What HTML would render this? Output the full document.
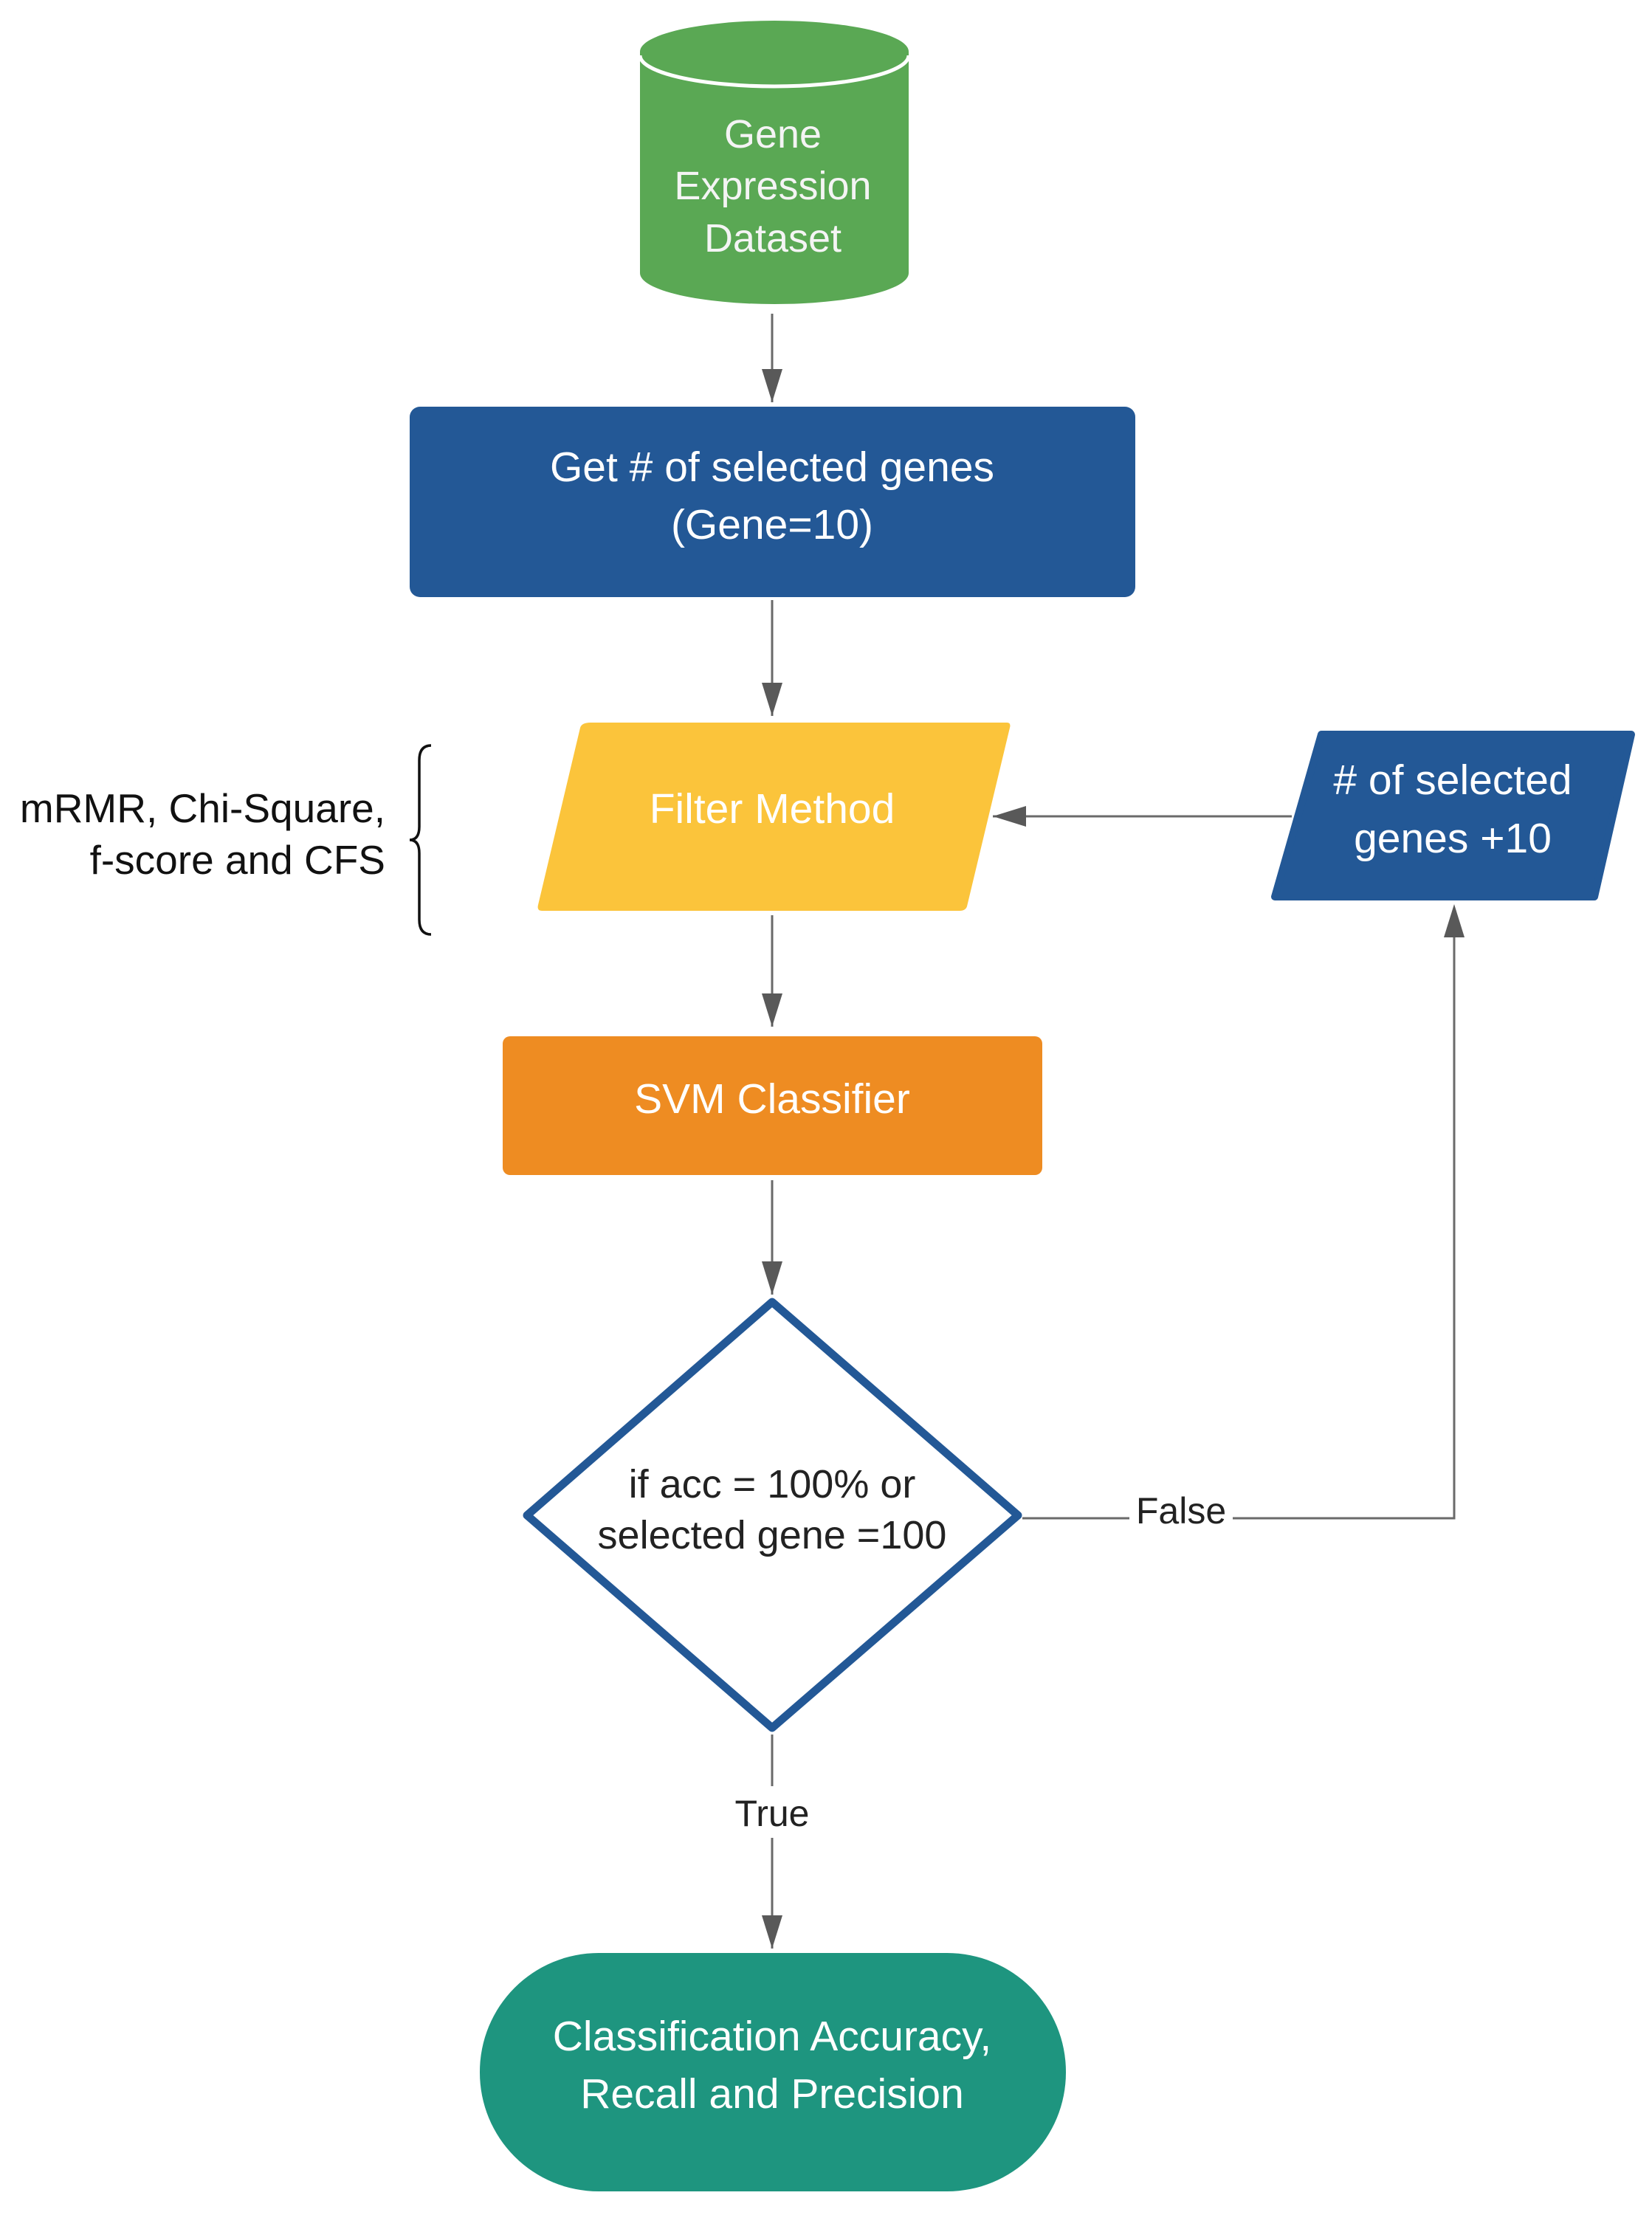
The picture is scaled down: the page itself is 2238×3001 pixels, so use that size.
<!DOCTYPE html>
<html><head><meta charset="utf-8"><style>
html,body{margin:0;padding:0;background:#fff;}
svg{display:block;}
text{font-family:"Liberation Sans",Arial,sans-serif;}
</style></head><body>
<svg width="2238" height="3001" viewBox="0 0 2238 3001" xmlns="http://www.w3.org/2000/svg">
<g stroke="#6a6a6a" stroke-width="3" fill="none">
<line x1="1046" y1="425" x2="1046" y2="545"/>
<line x1="1046" y1="813" x2="1046" y2="970"/>
<line x1="1750" y1="1106" x2="1345" y2="1106"/>
<line x1="1046" y1="1240" x2="1046" y2="1391"/>
<line x1="1046" y1="1599" x2="1046" y2="1754"/>
<polyline points="1385,2057 1970,2057 1970,1230"/>
<line x1="1046" y1="2350" x2="1046" y2="2640"/>
</g>
<g fill="#595959">
<path d="M1032,500 L1060,500 L1046,545 z"/>
<path d="M1032,925 L1060,925 L1046,970 z"/>
<path d="M1390,1092 L1390,1120 L1345,1106 z"/>
<path d="M1032,1346 L1060,1346 L1046,1391 z"/>
<path d="M1032,1709 L1060,1709 L1046,1754 z"/>
<path d="M1956,1270 L1984,1270 L1970,1225 z"/>
<path d="M1032,2595 L1060,2595 L1046,2640 z"/>
</g>
<path d="M867,70 L867,370 A182,42 0 0 0 1231,370 L1231,70 z" fill="#5aa854"/>
<ellipse cx="1049" cy="70" rx="182" ry="42" fill="#5aa854"/>
<path d="M867,75 A182,42 0 0 0 1231,75" fill="none" stroke="#fff" stroke-width="5"/>
<g fill="#f4f4f4" font-size="54" text-anchor="middle">
<text x="1047" y="200">Gene</text>
<text x="1047" y="270">Expression</text>
<text x="1047" y="341">Dataset</text>
</g>
<rect x="555" y="551" width="983" height="258" rx="14" fill="#235896"/>
<g fill="#fff" font-size="57" text-anchor="middle">
<text x="1046" y="652">Get # of selected genes</text>
<text x="1046" y="730">(Gene=10)</text>
</g>
<path d="M800,979 L1364,979 Q1370,979 1368,986 L1310,1228 Q1308,1234 1300,1234 L734,1234 Q727,1234 729,1226 L786,986 Q788,979 800,979 z" fill="#fbc43b"/>
<text x="1046" y="1115" fill="#fff" font-size="57" text-anchor="middle">Filter Method</text>
<path d="M1790,995 L2210,995 L2160,1215 L1727,1215 z" fill="#235896" stroke="#235896" stroke-width="10" stroke-linejoin="round"/>
<g fill="#fff" font-size="57" text-anchor="middle">
<text x="1968" y="1076"># of selected</text>
<text x="1968" y="1155">genes +10</text>
</g>
<path d="M584,1010 Q568,1010 568,1030 L568,1120 Q568,1138 555,1138 Q568,1138 568,1156 L568,1246 Q568,1266 584,1266" fill="none" stroke="#111" stroke-width="3.5"/>
<g fill="#111" font-size="55" text-anchor="end">
<text x="522" y="1114">mRMR, Chi-Square,</text>
<text x="522" y="1184">f-score and CFS</text>
</g>
<rect x="681" y="1404" width="731" height="188" rx="10" fill="#ee8c22"/>
<text x="1046" y="1508" fill="#fff" font-size="57" text-anchor="middle">SVM Classifier</text>
<path d="M1046,1764 L1379,2053 L1046,2341 L714,2053 z" fill="#fff" stroke="#235896" stroke-width="11" stroke-linejoin="round"/>
<g fill="#222" font-size="54" text-anchor="middle">
<text x="1046" y="2029">if acc = 100% or</text>
<text x="1046" y="2098">selected gene =100</text>
</g>
<rect x="1530" y="2022" width="140" height="60" fill="#fff"/>
<text x="1600" y="2064" fill="#222" font-size="50" text-anchor="middle">False</text>
<rect x="980" y="2420" width="130" height="70" fill="#fff"/>
<text x="1046" y="2474" fill="#222" font-size="50" text-anchor="middle">True</text>
<rect x="650" y="2646" width="794" height="323" rx="161" fill="#1e957f"/>
<g fill="#fff" font-size="57" text-anchor="middle">
<text x="1046" y="2778">Classification Accuracy,</text>
<text x="1046" y="2856">Recall and Precision</text>
</g>
</svg>
</body></html>
